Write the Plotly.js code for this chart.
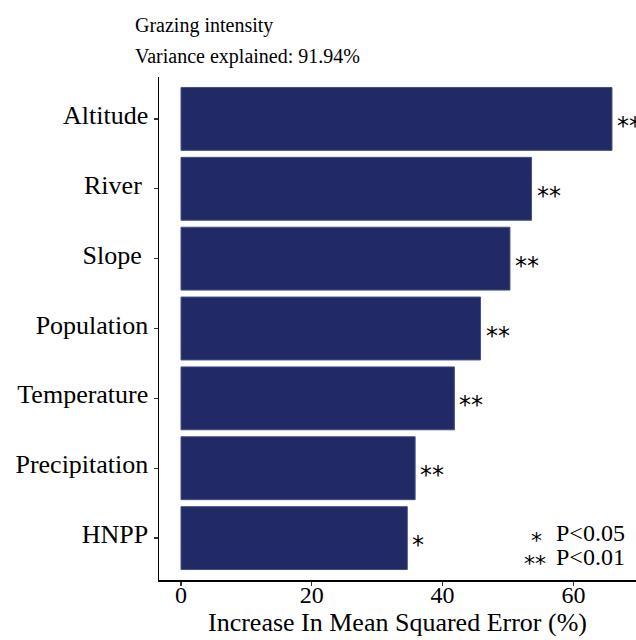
<!DOCTYPE html>
<html>
<head>
<meta charset="utf-8">
<script src="https://cdn.plot.ly/plotly-3.0.1.min.js"></script>
<style>html,body{margin:0;padding:0;background:#fff;}#chart{width:636px;height:640px;}</style>
</head>
<body>
<div id="chart"></div>
<script>
const categories = ['Altitude', 'River', 'Slope', 'Population', 'Temperature', 'Precipitation', 'HNPP'];
const tickLabels = ['Altitude', 'River\u00a0', 'Slope\u00a0', 'Population', 'Temperature', 'Precipitation', 'HNPP'];
const values = [65.9, 53.6, 50.3, 45.8, 41.8, 35.8, 34.6];
const significance = ['**', '**', '**', '**', '**', '**', '*'];
const titleLines = ['Grazing intensity', 'Variance explained: 91.94%'];
const xTicks = [0, 20, 40, 60];
const legendStars = ['*', '**'];
const legendTexts = ['P&lt;0.05', 'P&lt;0.01'];

const serif = '"Liberation Serif", "Times New Roman", serif';
const starFont = '"DejaVu Sans", sans-serif';

const W = 636, H = 640, ml = 159, mt = 77, mb = 60, mr = 0;
const pw = W - ml - mr, ph = H - mt - mb;
const px2x = p => (p - ml) / pw;
const py2y = p => (H - mb - p) / ph;

const trace = {
  type: 'bar',
  orientation: 'h',
  y: categories,
  x: values,
  width: 0.9,
  marker: {color: '#212A64', line: {color: '#46508a', width: 1}},
  hoverinfo: 'x+y'
};

const annotations = [];
categories.forEach((c, i) => {
  annotations.push({
    x: values[i], y: c, xref: 'x', yref: 'y',
    text: significance[i], showarrow: false,
    xanchor: 'left', yanchor: 'middle', xshift: 3, yshift: -7,
    font: {family: starFont, size: 24, color: '#000'}
  });
});
titleLines.forEach((t, i) => {
  annotations.push({
    x: px2x(133), y: py2y(i === 0 ? 25 : 57), xref: 'paper', yref: 'paper',
    text: t, showarrow: false, xanchor: 'left', yanchor: 'middle',
    font: {family: serif, size: 20, color: '#000'}
  });
});
legendStars.forEach((s, i) => {
  annotations.push({
    x: px2x(i === 0 ? 544 : 548), y: py2y(i === 0 ? 540 : 563), xref: 'paper', yref: 'paper',
    text: s, showarrow: false, xanchor: 'right', yanchor: 'middle',
    font: {family: starFont, size: 22, color: '#000'}
  });
  annotations.push({
    x: px2x(554), y: py2y(i === 0 ? 533 : 557), xref: 'paper', yref: 'paper',
    text: legendTexts[i], showarrow: false, xanchor: 'left', yanchor: 'middle',
    font: {family: serif, size: 24, color: '#000'}
  });
});

const layout = {
  width: W, height: H,
  margin: {l: ml, r: mr, t: mt, b: mb, pad: 0},
  paper_bgcolor: '#fff', plot_bgcolor: '#fff',
  showlegend: false,
  bargap: 0.1,
  font: {family: serif, color: '#000'},
  xaxis: {
    range: [(ml - 181) / 6.54, (W - 181) / 6.54],
    tickvals: xTicks, ticktext: xTicks.map(String),
    showgrid: false, zeroline: false,
    showline: true, linecolor: '#000', linewidth: 1.5,
    ticks: 'outside', ticklen: 4, tickwidth: 1.2, tickcolor: '#333',
    ticklabelstandoff: -11,
    tickfont: {family: serif, size: 24, color: '#000'},
    title: {text: 'Increase In Mean Squared Error (%)', font: {family: serif, size: 26, color: '#000'}, standoff: 0},
    fixedrange: true
  },
  yaxis: {
    type: 'category',
    range: [6.6, -0.6],
    tickvals: categories, ticktext: tickLabels,
    showgrid: false, zeroline: false,
    showline: true, linecolor: '#000', linewidth: 1.5,
    ticks: 'outside', ticklen: 4, tickwidth: 1.2, tickcolor: '#333',
    ticklabelshift: 4,
    tickfont: {family: serif, size: 26, color: '#000'},
    fixedrange: true
  },
  annotations: annotations
};

Plotly.newPlot('chart', [trace], layout, {displayModeBar: false, staticPlot: true});
</script>
</body>
</html>
